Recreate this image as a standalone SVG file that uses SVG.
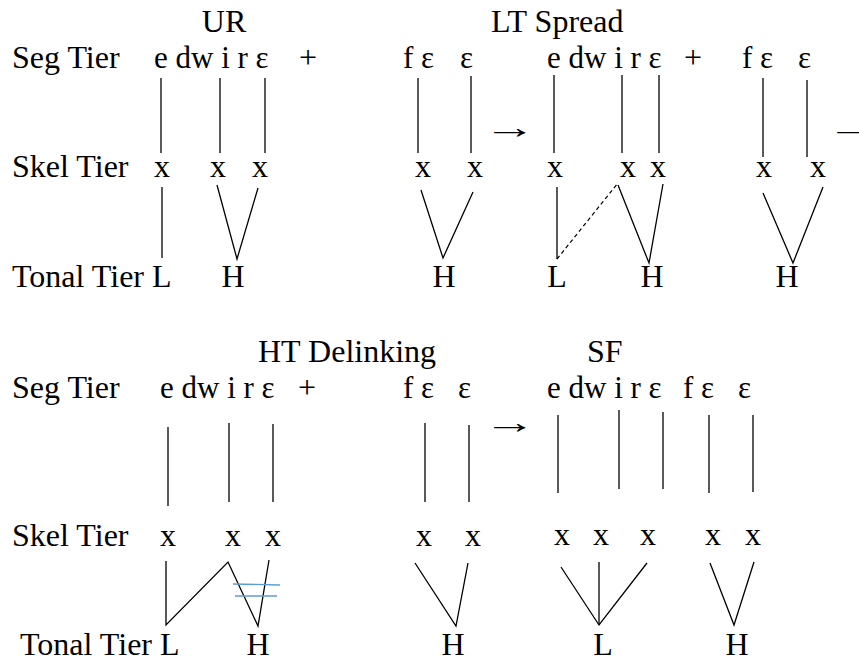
<svg xmlns="http://www.w3.org/2000/svg" width="859" height="661" viewBox="0 0 859 661">
  <style>
    text { font-family: 'Liberation Serif', 'Times New Roman', serif; font-size: 32px; fill: #000; }
    .seg { font-size: 31px; }
    .m { text-anchor: middle; }
    .ln { stroke: #000; stroke-width: 1.3; fill: none; }
    .dash { stroke: #000; stroke-width: 1.2; fill: none; stroke-dasharray: 4 3; }
    .del { stroke: #5b9bd5; stroke-width: 1.3; fill: none; }
  </style>
  <rect width="859" height="661" fill="#fff"/>

  <!-- tier labels -->
  <g id="labels">
    <text x="12" y="68">Seg Tier</text>
    <text x="12" y="177">Skel Tier</text>
    <text x="12" y="287">Tonal Tier L</text>
    <text x="12" y="398">Seg Tier</text>
    <text x="12" y="546">Skel Tier</text>
    <text x="20" y="655">Tonal Tier L</text>
  </g>

  <!-- stage titles -->
  <g id="titles">
    <text x="224" y="32" class="m">UR</text>
    <text x="491" y="32">LT Spread</text>
    <text x="258" y="362">HT Delinking</text>
    <text x="587" y="362">SF</text>
  </g>

  <!-- UR -->
  <g id="ur">
    <text x="154" y="68" class="seg">e dw i r ε</text>
    <text x="299" y="68">+</text>
    <text x="403" y="68" class="seg">f ε</text>
    <text x="460" y="68" class="seg">ε</text>
    <text x="162" y="177" class="m">x</text>
    <text x="218" y="177" class="m">x</text>
    <text x="260" y="177" class="m">x</text>
    <text x="423" y="177" class="m">x</text>
    <text x="475" y="177" class="m">x</text>
    <text x="233" y="287" class="m">H</text>
    <text x="444" y="287" class="m">H</text>
  </g>
  <text id="arrow1" transform="translate(483,138) scale(1.65,1)">→</text>

  <!-- LT Spread -->
  <g id="lt-spread">
    <text x="547" y="68" class="seg">e dw i r ε</text>
    <text x="684" y="68">+</text>
    <text x="742" y="68" class="seg">f ε</text>
    <text x="798" y="68" class="seg">ε</text>
    <text x="555" y="177" class="m">x</text>
    <text x="628" y="177" class="m">x</text>
    <text x="658" y="177" class="m">x</text>
    <text x="764" y="177" class="m">x</text>
    <text x="818" y="177" class="m">x</text>
    <text x="557" y="287" class="m">L</text>
    <text x="652" y="287" class="m">H</text>
    <text x="787" y="287" class="m">H</text>
  </g>
  <text id="arrow2" transform="translate(826,138) scale(1.65,1)">→</text>

  <!-- HT Delinking -->
  <g id="ht-delinking">
    <text x="160" y="398" class="seg">e dw i r ε</text>
    <text x="298" y="398">+</text>
    <text x="403" y="398" class="seg">f ε</text>
    <text x="458" y="398" class="seg">ε</text>
    <text x="168" y="546" class="m">x</text>
    <text x="233" y="546" class="m">x</text>
    <text x="273" y="546" class="m">x</text>
    <text x="424" y="546" class="m">x</text>
    <text x="473" y="546" class="m">x</text>
    <text x="258" y="655" class="m">H</text>
    <text x="453" y="655" class="m">H</text>
  </g>
  <text id="arrow3" transform="translate(483,433) scale(1.65,1)">→</text>

  <!-- SF -->
  <g id="sf">
    <text x="547" y="398" class="seg">e dw i r ε</text>
    <text x="683" y="398" class="seg">f ε</text>
    <text x="738" y="398" class="seg">ε</text>
    <text x="562" y="545" class="m">x</text>
    <text x="601" y="545" class="m">x</text>
    <text x="648" y="545" class="m">x</text>
    <text x="713" y="545" class="m">x</text>
    <text x="753" y="545" class="m">x</text>
    <text x="603" y="655" class="m">L</text>
    <text x="737" y="655" class="m">H</text>
  </g>

  <!-- association lines -->
  <g id="connectors">
    <!-- UR -->
    <line class="ln" x1="161" y1="78" x2="161" y2="153"/>
    <line class="ln" x1="220" y1="78" x2="220" y2="153"/>
    <line class="ln" x1="265" y1="78" x2="265" y2="153"/>
    <line class="ln" x1="418" y1="78" x2="418" y2="153"/>
    <line class="ln" x1="471" y1="76" x2="471" y2="153"/>
    <line class="ln" x1="162" y1="187" x2="162" y2="258"/>
    <polyline class="ln" points="217,185 237,259 258,188"/>
    <polyline class="ln" points="421,190 443,258 473,192"/>
    <!-- LT Spread -->
    <line class="ln" x1="554" y1="75" x2="554" y2="153"/>
    <line class="ln" x1="622" y1="75" x2="622" y2="153"/>
    <line class="ln" x1="659" y1="75" x2="659" y2="153"/>
    <line class="ln" x1="763" y1="78" x2="763" y2="157"/>
    <line class="ln" x1="807" y1="80" x2="807" y2="157"/>
    <line class="ln" x1="557" y1="187" x2="557" y2="259"/>
    <line class="dash" x1="557" y1="259" x2="618" y2="183"/>
    <polyline class="ln" points="618,185 649,263 663,184"/>
    <polyline class="ln" points="763,193 793,263 823,187"/>
    <!-- HT Delinking -->
    <line class="ln" x1="168" y1="427" x2="168" y2="506"/>
    <line class="ln" x1="229" y1="423" x2="229" y2="502"/>
    <line class="ln" x1="273" y1="424" x2="273" y2="502"/>
    <line class="ln" x1="425" y1="423" x2="425" y2="502"/>
    <line class="ln" x1="469" y1="425" x2="469" y2="502"/>
    <polyline class="ln" points="166,561 166,625 228,562 258,626 269,560"/>
    <line class="del" x1="233" y1="584" x2="280" y2="585"/>
    <line class="del" x1="235" y1="596" x2="277" y2="596"/>
    <polyline class="ln" points="415,563 456,626 468,563"/>
    <!-- SF -->
    <line class="ln" x1="558" y1="415" x2="558" y2="493"/>
    <line class="ln" x1="619" y1="410" x2="619" y2="489"/>
    <line class="ln" x1="663" y1="412" x2="663" y2="489"/>
    <line class="ln" x1="709" y1="415" x2="709" y2="493"/>
    <line class="ln" x1="753" y1="415" x2="753" y2="492"/>
    <polyline class="ln" points="561,567 599,625 647,563"/>
    <line class="ln" x1="599" y1="562" x2="599" y2="625"/>
    <polyline class="ln" points="710,563 734,625 754,562"/>
  </g>
</svg>
